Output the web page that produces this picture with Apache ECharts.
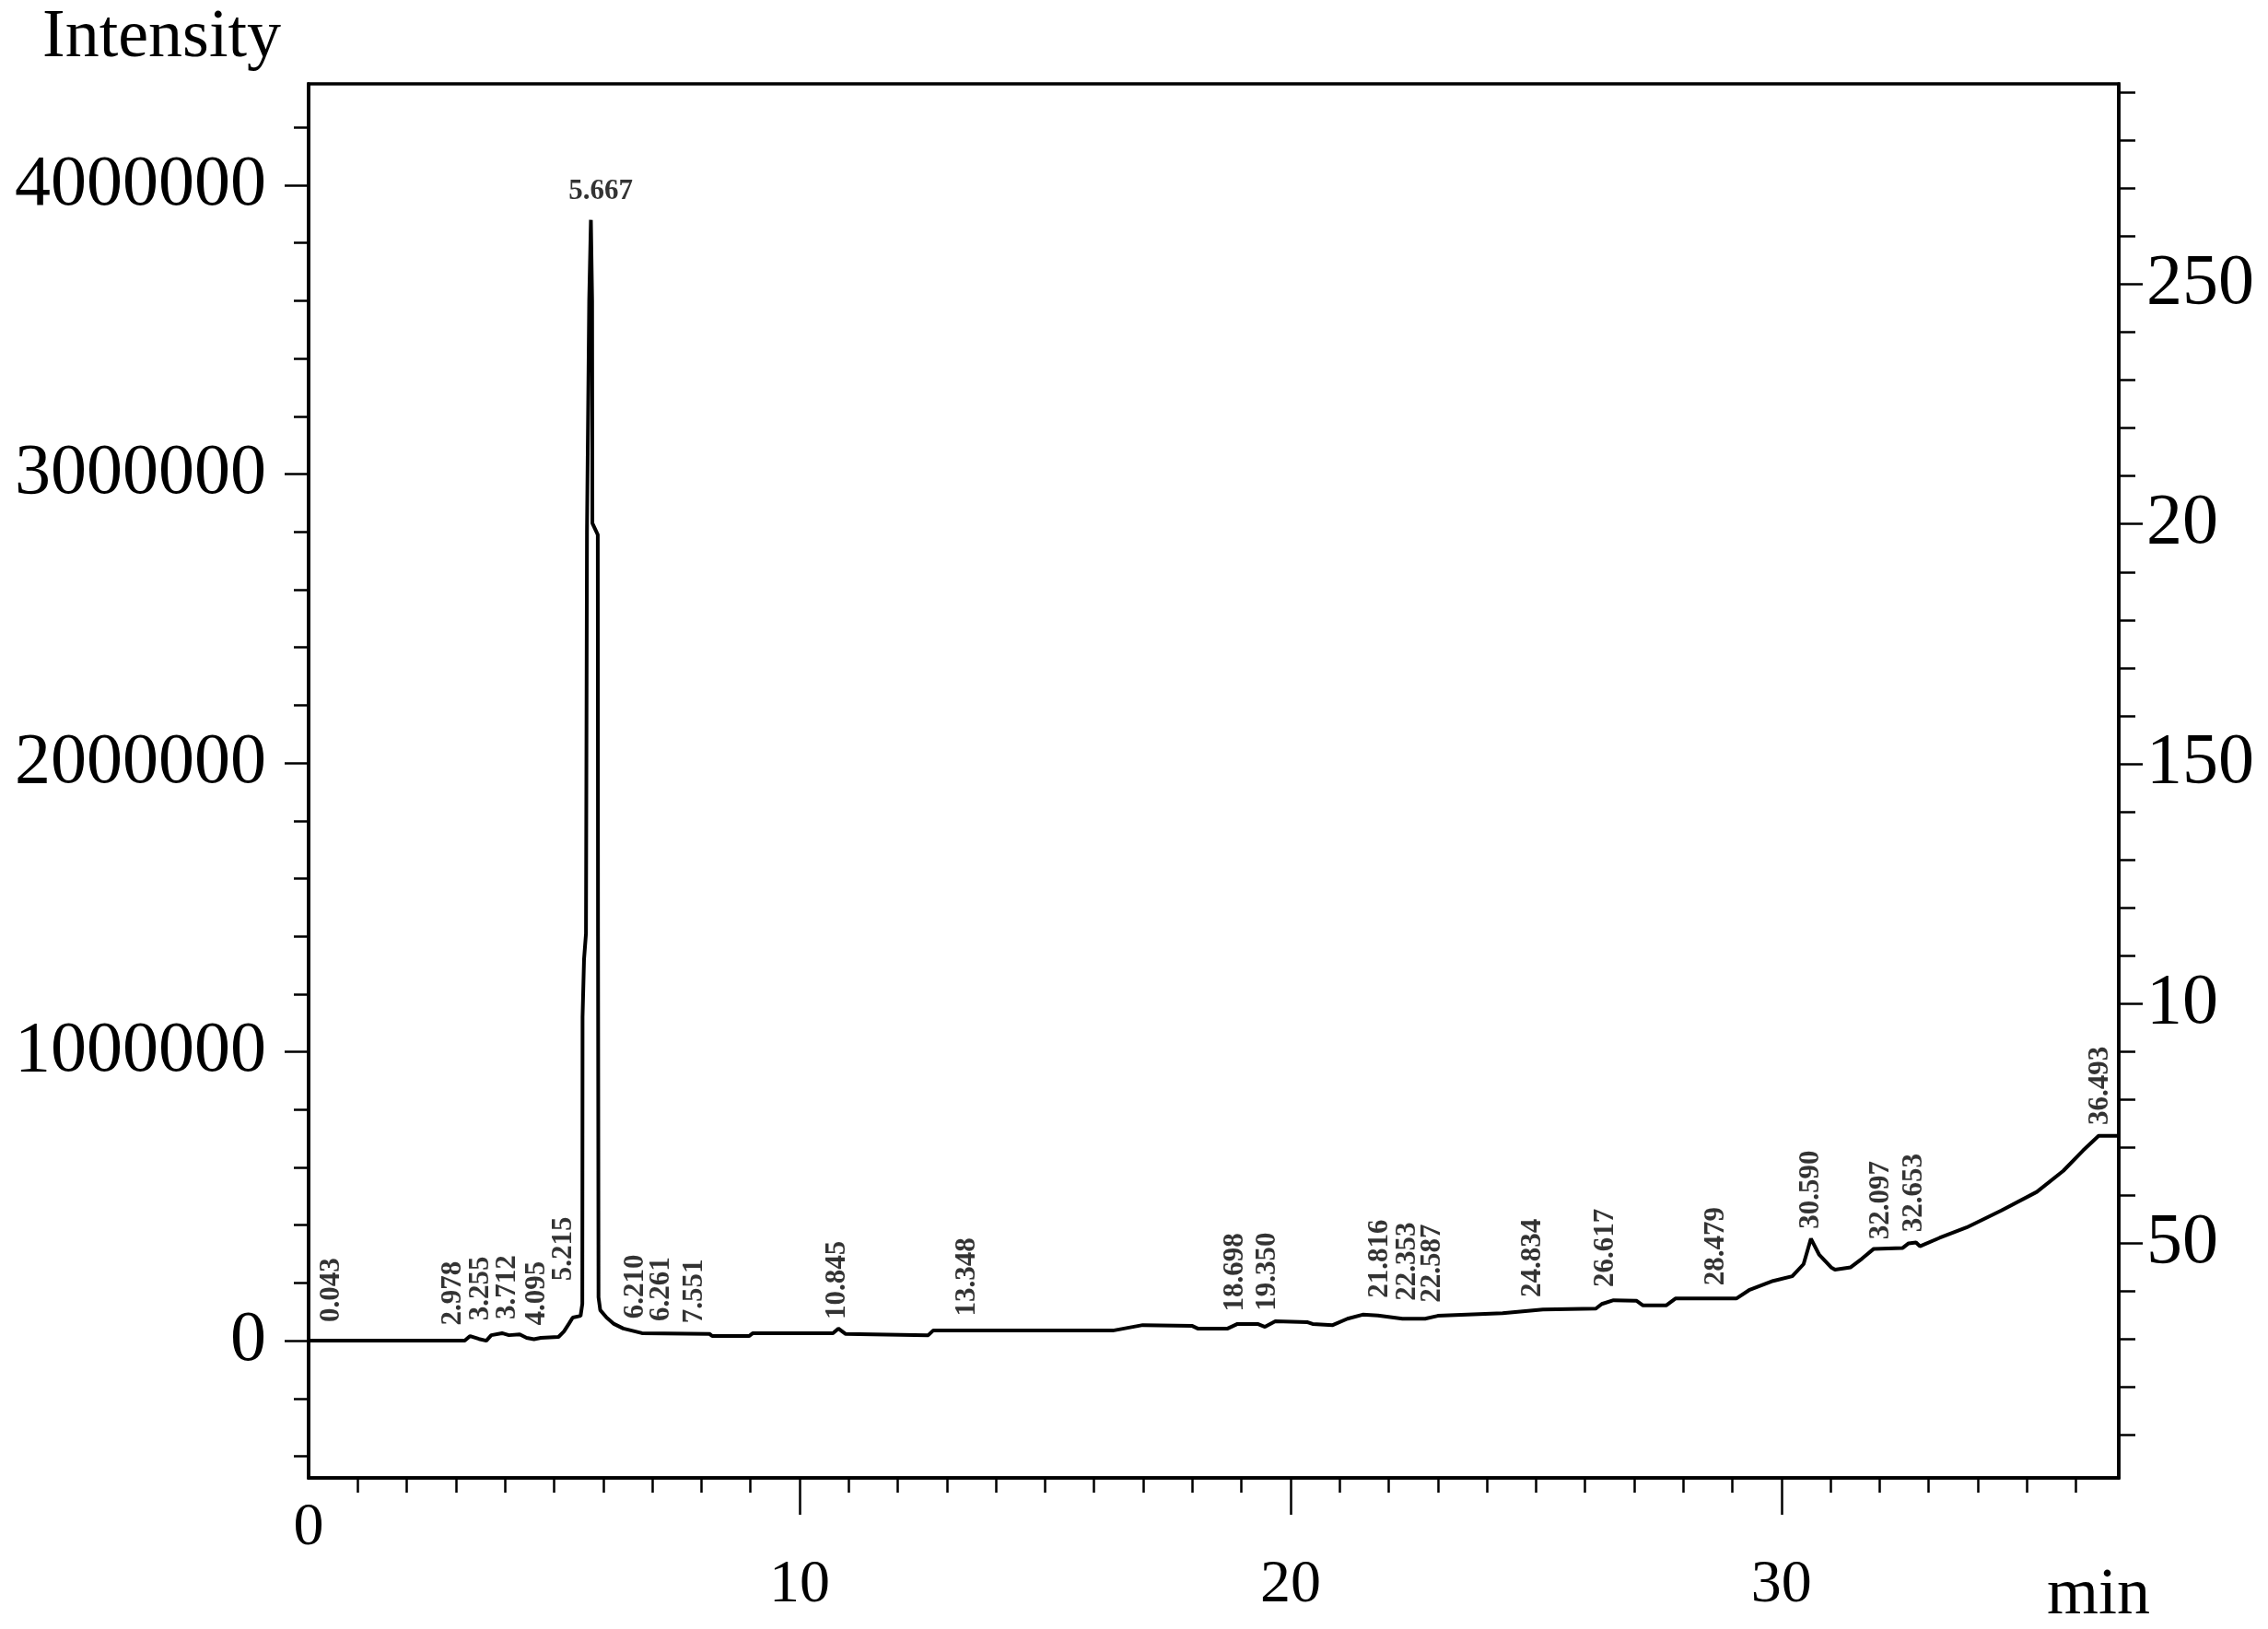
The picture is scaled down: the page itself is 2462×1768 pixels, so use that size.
<!DOCTYPE html>
<html>
<head>
<meta charset="utf-8">
<title>Chromatogram</title>
<script src="https://cdn.jsdelivr.net/npm/echarts@6/dist/echarts.min.js"></script>
<style>
  html, body { margin: 0; padding: 0; background: #fff; }
  #chart { width: 2462px; height: 1768px; }
</style>
</head>
<body>
<div id="chart"></div>
<script>
// trace: retention time (min) and intensity
const retTime = [
  0, 3.18, 3.29, 3.47, 3.62, 3.72, 3.94, 4.08, 4.30, 4.44, 4.59, 4.73, 5.09, 5.20, 5.30, 5.38, 5.54,
  5.575, 5.58, 5.61, 5.65, 5.67, 5.715, 5.75, 5.775, 5.78, 5.89, 5.895, 5.905, 5.94, 6.07, 6.22, 6.41, 6.79,
  8.17, 8.22, 8.97, 9.05, 10.68, 10.79, 10.94, 12.62, 12.72, 16.38, 16.99, 18.0, 18.11, 18.72, 18.92,
  19.33, 19.48, 19.69, 20.35, 20.45, 20.86, 21.16, 21.47, 21.78, 22.28, 22.74, 23.0, 24.32, 25.14,
  26.22, 26.34, 26.58, 27.05, 27.18, 27.65, 27.84, 29.08, 29.34, 29.83, 30.22, 30.45, 30.60, 30.77,
  31.01, 31.09, 31.41, 31.64, 31.88, 32.47, 32.59, 32.74, 32.82, 33.22, 33.77, 34.48, 35.20, 35.74,
  36.14, 36.46, 36.87
];
const intensity = [
  0, 0, 16000, 6000, 0, 19000, 26000, 19000, 22000, 10000, 5000, 10000, 13000, 32000, 58000, 80000, 86000,
  127000, 1120000, 1320000, 1410000, 2800000, 3600000, 3880000, 3600000, 2830000, 2790000, 1400000, 150000, 106000, 80000, 58000, 42000, 26000,
  23000, 16000, 16000, 26000, 26000, 42000, 23000, 19000, 35000, 35000, 54000, 51000, 42000, 42000, 58000,
  58000, 48000, 67000, 64000, 58000, 54000, 76000, 90000, 87000, 76000, 76000, 86000, 95000, 108000,
  111000, 127000, 140000, 138000, 122000, 122000, 146000, 146000, 175000, 207000, 223000, 265000, 353000, 297000,
  254000, 246000, 254000, 284000, 318000, 321000, 337000, 340000, 327000, 356000, 392000, 451000, 515000, 588000,
  658000, 709000, 709000
];

// peak annotations: text, and where its foot sits (min, intensity)
const peakText = [
  '0.043', '2.978', '3.255', '3.712', '4.095', '5.215', '5.667', '6.210', '6.261', '7.551',
  '10.845', '13.348', '18.698', '19.350', '21.816', '22.353', '22.587', '24.834', '26.617',
  '28.479', '30.590', '32.097', '32.653', '36.493'
];
const peakLabelX = [
  0.46, 2.94, 3.51, 4.05, 4.66, 5.20, 5.95, 6.66, 7.19, 7.87,
  10.77, 13.41, 18.88, 19.54, 21.83, 22.39, 22.90, 24.93, 26.41,
  28.67, 30.60, 32.03, 32.70, 36.50
];
const peakLabelY = [
  64000, 53000, 70000, 74000, 53000, 207000, 3930000, 76000, 67000, 60000,
  74000, 85000, 101000, 103000, 148000, 138000, 132000, 150000, 185000,
  191000, 387000, 350000, 376000, 747000
];
const apexLabel = '5.667';

const xMajorTicks = [10, 20, 30];
const xLabelValues = [0, 10, 20, 30];
const leftTicks = [0, 1000000, 2000000, 3000000, 4000000];
const rightTicks = [50, 100, 150, 200, 250];
const rightTickText = ['50', '10', '150', '20', '250'];

const serif = 'Liberation Serif';
const ink = '#000';
const axisLine = { color: ink, width: 3.5 };
const tickLine = { color: ink, width: 2.5 };

const chart = echarts.init(document.getElementById('chart'));
chart.setOption({
  animation: false,
  backgroundColor: '#fff',
  grid: {
    left: 335, right: 162, top: 91, bottom: 159,
    show: true, borderColor: ink, borderWidth: 3.5
  },
  xAxis: {
    type: 'value', min: 0, max: 36.87,
    name: 'min', nameLocation: 'end', nameGap: -22,
    nameTextStyle: {
      fontFamily: serif, fontSize: 72, color: ink,
      align: 'center', verticalAlign: 'top', padding: [92, 0, 0, 0]
    },
    axisLine: { show: true, onZero: false, lineStyle: axisLine },
    axisTick: { show: true, customValues: xMajorTicks, length: 40, lineStyle: tickLine },
    minorTick: { show: true, splitNumber: 10, length: 16, lineStyle: tickLine },
    axisLabel: {
      customValues: xLabelValues, margin: 22,
      fontFamily: serif, fontSize: 66, color: ink,
      formatter: v => (v === 0 ? '0' : '{d|' + v + '}'),
      rich: { d: { fontFamily: serif, fontSize: 66, color: ink, padding: [62, 0, 0, 0] } }
    },
    splitLine: { show: false }
  },
  yAxis: [
    {
      type: 'value', position: 'left', min: -475000, max: 4351000,
      name: 'Intensity', nameLocation: 'end', nameGap: 12,
      nameTextStyle: {
        fontFamily: serif, fontSize: 74, color: ink,
        align: 'right', verticalAlign: 'bottom', padding: [0, 30, 0, 0]
      },
      axisLine: { show: true, onZero: false, lineStyle: axisLine },
      axisTick: { show: true, customValues: leftTicks, length: 26, lineStyle: tickLine },
      minorTick: { show: true, splitNumber: 5, length: 16, lineStyle: tickLine },
      axisLabel: {
        customValues: leftTicks, margin: 46, padding: [12, 0, 0, 0],
        fontFamily: serif, fontSize: 78, color: ink,
        formatter: v => String(v)
      },
      splitLine: { show: false }
    },
    {
      type: 'value', position: 'right', min: 1.07, max: 291.8,
      axisLine: { show: true, onZero: false, lineStyle: axisLine },
      axisTick: { show: true, customValues: rightTicks, length: 26, lineStyle: tickLine },
      minorTick: { show: true, splitNumber: 5, length: 18, lineStyle: tickLine },
      axisLabel: {
        customValues: rightTicks, margin: 30,
        fontFamily: serif, fontSize: 78, color: ink,
        formatter: v => rightTickText[rightTicks.indexOf(v)]
      },
      splitLine: { show: false }
    }
  ],
  series: [
    {
      type: 'line',
      yAxisIndex: 0,
      data: retTime.map((t, i) => [t, intensity[i]]),
      symbol: 'none',
      lineStyle: { color: ink, width: 4 }
    },
    {
      type: 'scatter',
      yAxisIndex: 0,
      symbolSize: 1,
      itemStyle: { color: 'rgba(0,0,0,0)' },
      silent: true,
      data: peakText.map((s, i) => {
        const item = { name: s, value: [peakLabelX[i], peakLabelY[i]] };
        if (s === apexLabel) {
          item.label = { rotate: 0, align: 'center', verticalAlign: 'bottom' };
        }
        return item;
      }),
      label: {
        show: true, position: 'inside', formatter: '{b}',
        rotate: 90, align: 'left', verticalAlign: 'middle',
        fontFamily: serif, fontWeight: 'bold', fontSize: 31, color: ink
      }
    }
  ]
});
</script>
</body>
</html>
